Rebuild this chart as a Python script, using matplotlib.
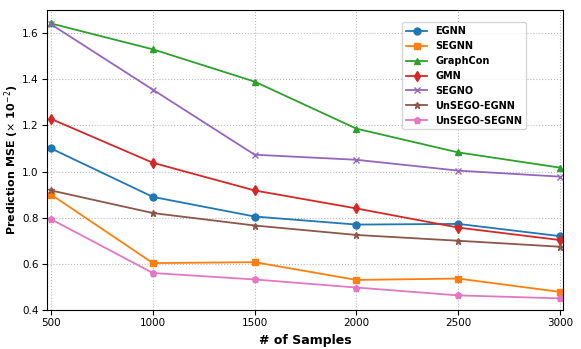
import matplotlib
matplotlib.use("Agg")
import matplotlib.pyplot as plt

samples = [500, 1000, 1500, 2000, 2500, 3000]

egnn = [1.100, 0.890, 0.805, 0.770, 0.773, 0.720]
segnn = [0.900, 0.603, 0.607, 0.530, 0.536, 0.478]
graphcon = [1.642, 1.530, 1.390, 1.186, 1.083, 1.017]
gmn = [1.228, 1.038, 0.918, 0.840, 0.757, 0.703]
segno = [1.638, 1.355, 1.073, 1.051, 1.004, 0.978]
unsego_egnn = [0.918, 0.820, 0.766, 0.725, 0.700, 0.674]
unsego_segnn = [0.793, 0.560, 0.532, 0.497, 0.463, 0.450]

series = [
    ("EGNN", egnn, "o"),
    ("SEGNN", segnn, "s"),
    ("GraphCon", graphcon, "^"),
    ("GMN", gmn, "d"),
    ("SEGNO", segno, "x"),
    ("UnSEGO-EGNN", unsego_egnn, "*"),
    ("UnSEGO-SEGNN", unsego_segnn, "p"),
]

fig = plt.figure(figsize=(5.81, 3.49), dpi=100)
ax = fig.add_axes([0.081, 0.112, 0.888, 0.859])

for name, ys, m in series:
    ax.plot(samples, ys, marker=m, markersize=5, linewidth=1.3, label=name)

ax.set_xlim(480, 3015)
ax.set_ylim(0.4, 1.7)
ax.set_xticks(samples)
ax.set_yticks([0.4, 0.6, 0.8, 1.0, 1.2, 1.4, 1.6])
ax.tick_params(labelsize=7.5, pad=2.5)
ax.grid(True, linestyle=":", color="#bbbbbb", linewidth=0.8)

ax.set_xlabel("# of Samples", fontsize=9, fontweight="bold")
ax.set_ylabel(r"Prediction MSE ($\times$ 10$^{-2}$)", fontsize=8, fontweight="bold")
ax.yaxis.set_label_coords(-0.05, 0.5)

leg = ax.legend(loc="upper right", bbox_to_anchor=(0.938, 0.975),
                prop={"weight": "bold", "size": 7}, handlelength=2.2)

fig.savefig("out.png", dpi=100)
